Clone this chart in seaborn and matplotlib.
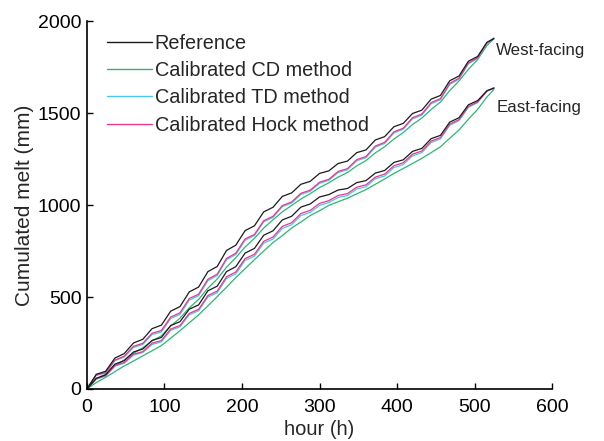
import matplotlib
matplotlib.use("Agg")
import matplotlib.pyplot as plt
import seaborn as sns
import pandas as pd
from matplotlib.lines import Line2D

hours = [0, 12, 24, 36, 48, 60, 72, 84, 96, 108, 120, 132, 144, 156, 168, 180, 192, 204,
         216, 228, 240, 252, 264, 276, 288, 300, 312, 324, 336, 348, 360, 372, 384, 396,
         408, 420, 432, 444, 456, 468, 480, 492, 504, 516, 525]

west_reference = [0, 80, 96, 168, 192, 250, 270, 328, 347, 423, 448, 528, 554, 638, 666, 753, 782, 861,
                  887, 963, 988, 1047, 1066, 1113, 1129, 1172, 1186, 1226, 1239, 1285, 1300, 1354, 1372, 1426,
                  1444, 1498, 1516, 1576, 1596, 1676, 1702, 1782, 1808, 1885, 1905]
west_cd = [0, 55, 79, 124, 158, 194, 224, 261, 289, 342, 385, 441, 487, 548, 598, 662, 714, 772,
           819, 875, 920, 963, 998, 1033, 1062, 1095, 1121, 1152, 1177, 1213, 1242, 1284, 1317, 1359,
           1394, 1438, 1473, 1520, 1560, 1623, 1675, 1738, 1791, 1868, 1905]
west_td = [0, 75, 86, 154, 173, 226, 242, 296, 310, 383, 406, 483, 507, 589, 617, 703, 731, 809,
           834, 909, 933, 991, 1011, 1058, 1075, 1118, 1134, 1177, 1192, 1241, 1258, 1315, 1335, 1392,
           1412, 1469, 1489, 1551, 1573, 1656, 1685, 1768, 1798, 1883, 1910]
west_hock = [0, 76, 89, 157, 178, 232, 248, 303, 318, 391, 414, 492, 515, 597, 624, 710, 738, 816,
             840, 915, 939, 997, 1017, 1064, 1081, 1124, 1140, 1183, 1198, 1247, 1264, 1321, 1341, 1398,
             1418, 1475, 1495, 1557, 1579, 1662, 1690, 1772, 1801, 1882, 1905]

east_reference = [0, 58, 77, 135, 154, 201, 217, 264, 280, 345, 366, 434, 457, 534, 559, 638, 665, 739,
                  764, 836, 860, 919, 939, 989, 1006, 1044, 1057, 1082, 1090, 1122, 1133, 1174, 1188, 1232,
                  1246, 1292, 1308, 1361, 1379, 1451, 1475, 1545, 1568, 1622, 1636]
east_cd = [0, 35, 63, 94, 125, 152, 180, 208, 236, 276, 317, 360, 403, 452, 502, 553, 606, 654,
           703, 750, 796, 834, 875, 908, 943, 969, 998, 1018, 1037, 1061, 1084, 1113, 1142, 1172,
           1199, 1226, 1254, 1285, 1317, 1363, 1409, 1466, 1521, 1588, 1628]
east_td = [0, 54, 70, 124, 140, 184, 198, 242, 256, 319, 338, 404, 425, 500, 523, 601, 626, 699,
           722, 793, 815, 873, 893, 943, 960, 998, 1014, 1041, 1052, 1087, 1100, 1143, 1158, 1204,
           1220, 1268, 1285, 1340, 1360, 1434, 1459, 1531, 1557, 1620, 1639]
east_hock = [0, 56, 72, 128, 144, 189, 203, 249, 263, 326, 345, 411, 433, 508, 532, 610, 636, 709,
             732, 803, 826, 884, 904, 954, 971, 1009, 1024, 1052, 1062, 1097, 1110, 1152, 1168, 1214,
             1230, 1277, 1294, 1348, 1367, 1440, 1465, 1536, 1561, 1619, 1636]

methods = ["Reference", "Calibrated CD method", "Calibrated TD method", "Calibrated Hock method"]
colors = {"Reference": "#1a1a1a", "Calibrated CD method": "#2bb673",
          "Calibrated TD method": "#4cc4f0", "Calibrated Hock method": "#e8388f"}

series = {
    ("West", "Reference"): west_reference,
    ("West", "Calibrated CD method"): west_cd,
    ("West", "Calibrated TD method"): west_td,
    ("West", "Calibrated Hock method"): west_hock,
    ("East", "Reference"): east_reference,
    ("East", "Calibrated CD method"): east_cd,
    ("East", "Calibrated TD method"): east_td,
    ("East", "Calibrated Hock method"): east_hock,
}

rows = []
for (facing, method), vals in series.items():
    for h, v in zip(hours, vals):
        rows.append({"hour": h, "melt": v, "method": method, "facing": facing})
df = pd.DataFrame(rows)

sns.set_style("ticks")
plt.rcParams["font.family"] = ["Liberation Sans", "DejaVu Sans"]

fig = plt.figure(figsize=(6.04, 4.41), dpi=100)
ax = fig.add_axes([0.144, 0.118, 0.77, 0.834])

draw_order = ["Calibrated CD method", "Calibrated TD method", "Calibrated Hock method", "Reference"]
for m in draw_order:
    sub = df[df["method"] == m]
    sns.lineplot(data=sub, x="hour", y="melt", units="facing", estimator=None,
                 color=colors[m], lw=0.9, ax=ax, legend=False,
                 solid_joinstyle="round")

handles = [Line2D([0], [0], color=colors[m], lw=1.0) for m in methods]
leg = ax.legend(handles, methods, loc="upper left", bbox_to_anchor=(0.026, 0.988),
                frameon=False, fontsize=14.3, handlelength=2.25, handletextpad=0.15,
                labelspacing=0.42, borderaxespad=0)

ax.text(528, 1840, "West-facing", fontsize=12.2, va="center", ha="left")
ax.text(528, 1530, "East-facing", fontsize=12.2, va="center", ha="left")

ax.set_xlim(0, 600)
ax.set_ylim(0, 2000)
ax.set_xticks([0, 100, 200, 300, 400, 500, 600])
ax.set_yticks([0, 500, 1000, 1500, 2000])
ax.set_xlabel("hour (h)", fontsize=14.5, labelpad=3)
ax.set_ylabel("Cumulated melt (mm)", fontsize=15, labelpad=3)
ax.tick_params(direction="in", length=4, width=1, labelsize=14, colors="black")
ax.tick_params(axis="x", pad=7)
ax.tick_params(axis="y", pad=4)
for s in ["top", "right"]:
    ax.spines[s].set_visible(False)
for s in ["left", "bottom"]:
    ax.spines[s].set_color("black")
    ax.spines[s].set_linewidth(1.2)

fig.savefig("out.png", dpi=100)
